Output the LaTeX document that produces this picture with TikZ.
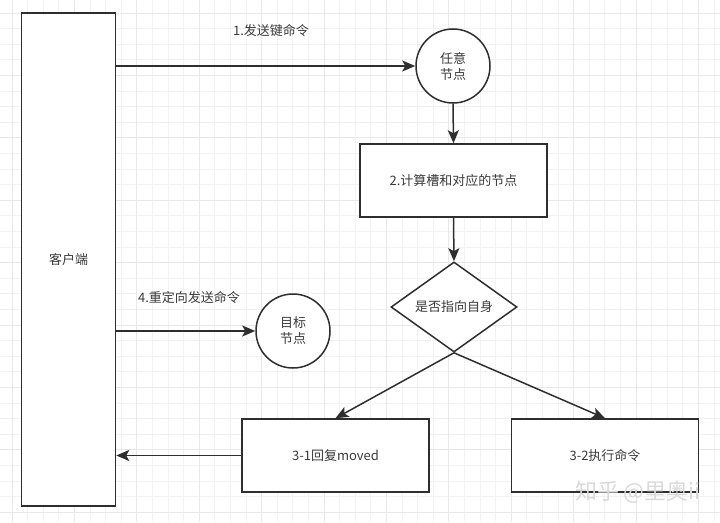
\documentclass[tikz,border=0pt]{standalone}
\usepackage{fontspec}
\setmainfont{Noto Sans CJK SC}
\usepackage{xcolor}
\usetikzlibrary{arrows.meta}
\usetikzlibrary{positioning, shapes.geometric}
\definecolor{linec}{HTML}{2E2E2E}
\definecolor{textc}{HTML}{3A3A3A}
\definecolor{gridminor}{HTML}{F2F2F2}
\definecolor{gridmajor}{HTML}{E8E8E8}

\begin{document}
\begin{tikzpicture}[
    x=1pt, y=-1pt,
    every node/.style={text=textc, font=\fontsize{13}{16}\selectfont},
    box/.style={
        draw=linec,
        fill=white,
        line width=1.5pt,
        minimum width=187pt,
        minimum height=73pt
    },
    roundnode/.style={
        circle,
        draw=linec,
        fill=white,
        line width=1.5pt,
        minimum size=74pt,
        inner sep=0pt,
        align=center
    },
    decision/.style={
        diamond,
        draw=linec,
        fill=white,
        line width=1.5pt,
        minimum width=126pt,
        minimum height=86pt,
        inner sep=0pt
    },
    link/.style={draw=linec, line width=1.5pt},
    arrowlink/.style={link, -{Stealth[length=13pt,width=11pt,inset=3pt]}}
]
    \useasboundingbox (0,0) rectangle (720,522);
    % 背景网格
    \foreach \gx in {12,27.6,...,720}
        \draw[gridminor, line width=1pt] (\gx,0) -- (\gx,522);
    \foreach \gy in {13,28.6,...,522}
        \draw[gridminor, line width=1pt] (0,\gy) -- (720,\gy);
    \foreach \gx in {12,74.4,...,720}
        \draw[gridmajor, line width=1pt] (\gx,0) -- (\gx,522);
    \foreach \gy in {13,75.4,...,522}
        \draw[gridmajor, line width=1pt] (0,\gy) -- (720,\gy);

    % 节点
    \node[box, minimum width=94pt, minimum height=493pt] (client) at (68.5,259.5) {客户端};
    \node[roundnode] (anynode) at (453,66) {任意\\节点};
    \node[box] (calc) at (453.5,180.5) {2.计算槽和对应的节点};
    \node[decision] (check) at (454,307) {是否指向自身};
    \node[box] (moved) at (335.5,455.5) {3-1回复moved};
    \node[box] (exec) at (605,455.5) {3-2执行命令};
    \node[roundnode] (target) at (293,331) {目标\\节点};

    % 连线
    \draw[arrowlink] (anynode -| client.east) -- (anynode.west);
    \draw[arrowlink] (anynode.south) -- (calc.north);
    \draw[arrowlink] (calc.south) -- (check.north);
    \draw[arrowlink] (check.south) -- (moved.north);
    \draw[arrowlink] (check.south) -- (exec.north);
    \draw[arrowlink] (moved.west) -- (moved -| client.east);
    \draw[arrowlink] (target -| client.east) -- (target.west);

    % 标签
    \node (send) at (271,31) {1.发送键命令};
    \node (redirect) at (189,298) {4.重定向发送命令};
    \node[text=black!15, font=\fontsize{22}{26}\selectfont] (mark) at (638,492) {知乎 @里奥ii};
\end{tikzpicture}
\end{document}
